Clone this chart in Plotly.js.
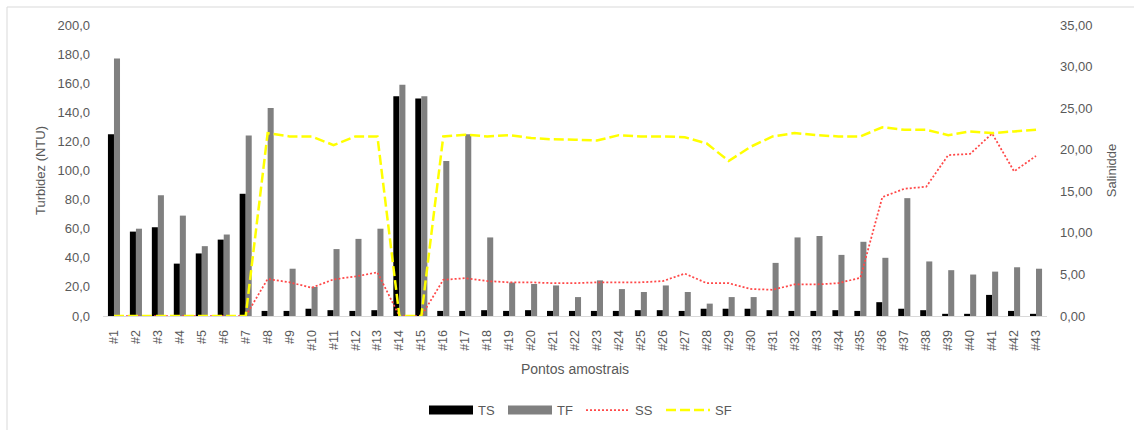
<!DOCTYPE html>
<html>
<head>
<meta charset="utf-8">
<script src="https://cdn.plot.ly/plotly-3.0.1.min.js"></script>
<style>
  html, body { margin: 0; padding: 0; background: #fff; }
  #chart { width: 1134px; height: 430px; }
</style>
</head>
<body>
<div id="chart"></div>
<script>
// Sampling points
const pontos = ['#1','#2','#3','#4','#5','#6','#7','#8','#9','#10','#11','#12','#13','#14','#15',
  '#16','#17','#18','#19','#20','#21','#22','#23','#24','#25','#26','#27','#28','#29','#30',
  '#31','#32','#33','#34','#35','#36','#37','#38','#39','#40','#41','#42','#43'];

// Turbidity (NTU)
const TS = [125, 58, 61, 36, 43, 52.5, 84, 3.5, 3.5, 5, 4, 3.5, 4, 151, 149.5, 3.5, 3.5, 4, 3.5, 4,
  3.5, 3.5, 3.5, 3.5, 4, 4, 3.5, 5, 5, 5, 4, 3.5, 3.5, 4, 3.5, 9.5, 5, 4, 1.5, 1.5, 14.5, 3.5, 1.5];
const TF = [177, 60, 83, 69, 48, 56, 124, 143, 32.5, 20, 46, 53, 60, 159, 151, 106.5, 125, 54, 23, 22,
  21, 13, 24.5, 18.5, 16.5, 21, 16.5, 8.5, 13, 13, 36.5, 54, 55, 42, 51, 40, 81, 37.5, 31.5, 28.5, 30.5, 33.5, 32.5];

// Salinity
const SS = [0, 0, 0, 0, 0, 0, 0, 4.45, 4.05, 3.4, 4.4, 4.75, 5.25, 0, 0, 4.35, 4.55, 4.2, 4.05, 4.05,
  3.95, 3.95, 4.05, 4.05, 4.05, 4.2, 5.1, 3.95, 3.95, 3.25, 3.15, 3.8, 3.8, 3.95, 4.6, 14.3, 15.3, 15.55,
  19.35, 19.5, 21.95, 17.4, 19.25];
const SF = [0, 0, 0, 0, 0, 0, 0, 22, 21.6, 21.6, 20.55, 21.6, 21.6, 0, 0, 21.6, 21.8, 21.6, 21.75, 21.4,
  21.25, 21.2, 21.1, 21.75, 21.6, 21.6, 21.5, 20.75, 18.65, 20.35, 21.6, 22, 21.75, 21.6, 21.6, 22.7,
  22.4, 22.4, 21.75, 22.2, 22, 22.2, 22.4];

const FONT = 'Liberation Sans, Arial, sans-serif';
const TXT = '#595959';
const RED = '#ff4848';
const YEL = '#ffff00';
const SS_DASH = '2px,2px';
const SF_DASH = '10px,4px';

const traces = [
  { type: 'bar', name: 'TS', x: pontos, y: TS, marker: { color: '#000000' }, yaxis: 'y' },
  { type: 'bar', name: 'TF', x: pontos, y: TF, marker: { color: '#808080' }, yaxis: 'y' },
  { type: 'scatter', mode: 'lines', name: 'SS', x: pontos, y: SS, yaxis: 'y2',
    line: { color: RED, width: 1.75, dash: SS_DASH } },
  { type: 'scatter', mode: 'lines', name: 'SF', x: pontos, y: SF, yaxis: 'y2',
    line: { color: YEL, width: 2.5, dash: SF_DASH } }
];

// plot-area geometry in pixels, used for the hand-built legend and frame lines
const L = 103, R = 87, T = 25, B = 114, W = 1134, H = 430;
const pw = W - L - R, ph = H - T - B;
const px = v => (v - L) / pw;
const py = v => (H - B - v) / ph;

const legendItems = [
  { name: 'TS', kind: 'rect', color: '#000000', x0: 429, x1: 473, tx: 476 },
  { name: 'TF', kind: 'rect', color: '#808080', x0: 508, x1: 552, tx: 555 },
  { name: 'SS', kind: 'dot', color: RED, x0: 586, x1: 630, tx: 633 },
  { name: 'SF', kind: 'dash', color: YEL, x0: 666, x1: 710, tx: 713 }
];
const legY = 410;

const shapes = [
  // chart frame
  { type: 'line', xref: 'paper', yref: 'paper', x0: px(7), x1: px(1200), y0: py(7), y1: py(7),
    line: { color: '#d9d9d9', width: 1 } },
  { type: 'line', xref: 'paper', yref: 'paper', x0: px(7), x1: px(7), y0: py(7), y1: py(500),
    line: { color: '#d9d9d9', width: 1 } }
];
const annotations = [];
legendItems.forEach(it => {
  if (it.kind === 'rect') {
    shapes.push({ type: 'rect', xref: 'paper', yref: 'paper', x0: px(it.x0), x1: px(it.x1),
      y0: py(legY - 4.5), y1: py(legY + 4.5), fillcolor: it.color, line: { width: 0 } });
  } else {
    shapes.push({ type: 'line', xref: 'paper', yref: 'paper', x0: px(it.x0), x1: px(it.x1),
      y0: py(legY), y1: py(legY),
      line: { color: it.color, width: it.kind === 'dot' ? 1.75 : 2.5, dash: it.kind === 'dot' ? SS_DASH : SF_DASH } });
  }
  annotations.push({ xref: 'paper', yref: 'paper', x: px(it.tx), y: py(legY), xanchor: 'left', yanchor: 'middle',
    text: it.name, showarrow: false, font: { family: FONT, size: 13, color: TXT } });
});

const layout = {
  width: W, height: H,
  margin: { l: L, r: R, t: T, b: B, pad: 0 },
  paper_bgcolor: '#ffffff', plot_bgcolor: '#ffffff',
  separators: ',.',
  showlegend: false,
  barmode: 'group', bargap: 0.45, bargroupgap: 0,
  font: { family: FONT, size: 13, color: TXT },
  xaxis: {
    type: 'category', tickangle: -90, showgrid: false, zeroline: false,
    showline: true, linecolor: '#d9d9d9', linewidth: 1, ticks: '',
    ticklabelstandoff: 8,
    tickfont: { family: FONT, size: 12.5, color: TXT },
    title: { text: 'Pontos amostrais', standoff: 14, font: { family: FONT, size: 14, color: TXT } }
  },
  yaxis: {
    range: [0, 200], dtick: 20, tickformat: '.1f', showgrid: false, zeroline: false,
    showline: false, ticks: '', ticklabelstandoff: 12,
    tickfont: { family: FONT, size: 13, color: TXT },
    title: { text: 'Turbidez (NTU)', standoff: 8, font: { family: FONT, size: 13, color: TXT } }
  },
  yaxis2: {
    overlaying: 'y', side: 'right', range: [0, 35], dtick: 5, tickformat: '.2f',
    showgrid: false, zeroline: false, showline: false, ticks: '', ticklabelstandoff: 12,
    tickfont: { family: FONT, size: 13, color: TXT },
    title: { text: 'Salinidde', standoff: 15, font: { family: FONT, size: 13, color: TXT } }
  },
  shapes: shapes,
  annotations: annotations
};

Plotly.newPlot('chart', traces, layout, { displayModeBar: false, staticPlot: true });
</script>
</body>
</html>
